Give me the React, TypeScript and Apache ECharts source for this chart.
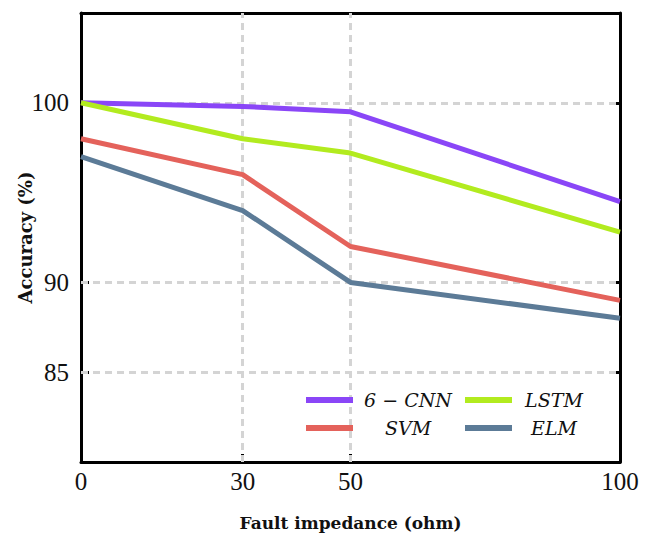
import React, { useEffect, useRef } from "react";
import * as echarts from "echarts";

const impedance = [0, 30, 50, 100];
const cnn6 = [100, 99.8, 99.5, 94.5];
const lstm = [100, 98.0, 97.2, 92.8];
const svm = [98.0, 96.0, 92.0, 89.0];
const elm = [97.0, 94.0, 90.0, 88.0];
const yTickValues = [85, 90, 100];
const xTickValues = [0, 30, 50, 100];
const xInnerTicks = [30, 50];
const seriesNames = ["6 − CNN", "LSTM", "SVM", "ELM"];
const seriesColors = ["#8a46f7", "#b2eb1f", "#e4625b", "#5c7b97"];

const serif = "Liberation Serif";
const wideSerif = "DejaVu Serif";

export default function App() {
  const ref = useRef<HTMLDivElement>(null);
  useEffect(() => {
    document.body.style.margin = "0";
    if (!ref.current) return;
    const chart = echarts.init(ref.current, null, { renderer: "svg" });
    const allData = [cnn6, lstm, svm, elm];
    const lineSeries = allData.map((vals, i) => ({
      name: seriesNames[i],
      type: "line",
      data: impedance.map((x, j) => [x, vals[j]]),
      showSymbol: false,
      symbol: "none",
      lineStyle: { width: 5, color: seriesColors[i] },
      itemStyle: { color: seriesColors[i] },
      z: 3,
    }));
    const tickStyle = { width: 3, color: "#000" };
    const legendRich = (w: number) => ({
      t: {
        width: w,
        align: "center",
        fontFamily: wideSerif,
        fontStyle: "italic",
        fontSize: 19,
        color: "#111",
        height: 24,
        lineHeight: 24,
      },
    });
    chart.setOption({
      animation: false,
      backgroundColor: "#fff",
      grid: { left: 81, right: 34, top: 13, bottom: 72, containLabel: false, outerBoundsMode: "none" },
      xAxis: [
        {
          type: "value",
          min: 0,
          max: 100,
          position: "bottom",
          name: "Fault impedance (ohm)",
          nameLocation: "middle",
          nameGap: 52,
          nameMoveOverlap: false,
          nameTextStyle: { fontFamily: wideSerif, fontWeight: "bold", fontSize: 17, color: "#111" },
          axisLine: { show: true, onZero: false, lineStyle: { width: 3, color: "#000" } },
          axisTick: { show: true, inside: true, length: 8, customValues: xInnerTicks, lineStyle: tickStyle },
          axisLabel: { customValues: xTickValues, fontFamily: serif, fontSize: 25, color: "#111", margin: 7 },
          splitLine: { show: false },
        },
        {
          type: "value",
          min: 0,
          max: 100,
          position: "top",
          axisLine: { show: true, onZero: false, lineStyle: { width: 3, color: "#000" } },
          axisTick: { show: false },
          axisLabel: { show: false },
          splitLine: { show: false },
        },
      ],
      yAxis: [
        {
          type: "value",
          min: 80,
          max: 105,
          position: "left",
          name: "Accuracy (%)",
          nameLocation: "middle",
          nameGap: 47,
          nameMoveOverlap: false,
          nameTextStyle: { fontFamily: wideSerif, fontWeight: "bold", fontSize: 18, color: "#111" },
          axisLine: { show: true, onZero: false, lineStyle: { width: 3, color: "#000" } },
          axisTick: { show: true, inside: true, length: 8, customValues: yTickValues, lineStyle: tickStyle },
          axisLabel: { customValues: yTickValues, fontFamily: serif, fontSize: 25, color: "#111", margin: 12 },
          splitLine: { show: false },
        },
        {
          type: "value",
          min: 80,
          max: 105,
          position: "right",
          axisLine: { show: true, onZero: false, lineStyle: { width: 3, color: "#000" } },
          axisTick: { show: true, inside: true, length: 8, customValues: yTickValues, lineStyle: tickStyle },
          axisLabel: { show: false },
          splitLine: { show: false },
        },
      ],
      legend: [
        {
          data: [seriesNames[0], seriesNames[2]],
          orient: "vertical",
          left: 306,
          top: 388,
          padding: 0,
          itemGap: 4,
          itemWidth: 47,
          itemHeight: 6,
          icon: "rect",
          formatter: "{t|{name}}",
          textStyle: { rich: legendRich(100) },
        },
        {
          data: [seriesNames[1], seriesNames[3]],
          orient: "vertical",
          left: 465,
          top: 388,
          padding: 0,
          itemGap: 4,
          itemWidth: 47,
          itemHeight: 6,
          icon: "rect",
          formatter: "{t|{name}}",
          textStyle: { rich: legendRich(74) },
        },
      ],
      series: [
        {
          type: "line",
          data: [],
          z: 1,
          silent: true,
          markLine: {
            z: 1,
            silent: true,
            symbol: "none",
            label: { show: false },
            lineStyle: { color: "#d4d4d4", width: 3, type: [7, 5] },
            data: [
              ...yTickValues.map((v) => ({ yAxis: v })),
              ...xInnerTicks.map((v) => ({ xAxis: v })),
            ],
          },
        },
        ...lineSeries,
      ],
    });
    return () => chart.dispose();
  }, []);
  return <div ref={ref} style={{ width: 654, height: 534 }} />;
}
